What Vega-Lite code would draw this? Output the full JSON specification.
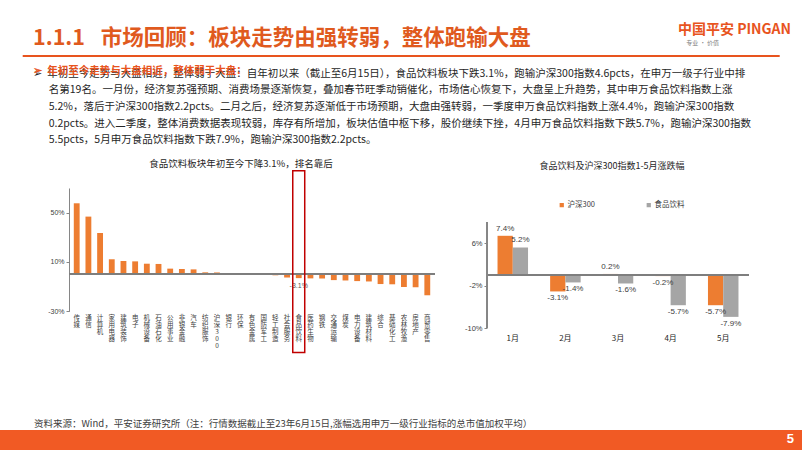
{
  "$schema": "https://vega.github.io/schema/vega-lite/v6.json",
  "background": "white",
  "padding": {"left": 0, "right": 0, "top": 22, "bottom": 0},
  "config": {
    "font": "Liberation Sans, Noto Sans CJK SC",
    "view": {"stroke": null},
    "locale": {"number": {"decimal": ".", "thousands": ",", "grouping": [3], "currency": ["", ""], "minus": "-"}},
    "title": {"font": "Noto Sans CJK SC", "fontWeight": "normal", "subtitleFont": "Noto Sans CJK SC"},
    "axis": {"labelFont": "Liberation Sans, Noto Sans CJK SC", "grid": false, "labelOverlap": false}
  },
  "title": {
    "text": "中国平安 PINGAN",
    "subtitle": "专业 · 价值\u3000\u3000\u3000\u3000\u3000\u3000\u3000\u3000\u3000\u3000\u3000\u3000\u200b",
    "anchor": "end",
    "dx": -11,
    "offset": -17.8,
    "color": "#E8541E",
    "fontSize": 14,
    "fontWeight": "bold",
    "subtitleFontSize": 6,
    "subtitleColor": "#7F7F7F",
    "subtitlePadding": 3
  },
  "spacing": 0,
  "resolve": {"scale": {"color": "independent"}, "legend": {"color": "independent"}},
  "vconcat": [
    {
      "spacing": 21.7,
      "hconcat": [
        {
          "width": 1, "height": 9,
          "data": {"values": [{}]},
          "mark": {"type": "text", "text": ""},
          "encoding": {}
        },
        {
          "width": 757,
          "height": 2,
          "data": {"values": [{}]},
          "mark": {"type": "rect", "color": "#E8541E"},
          "encoding": {
            "x": {"datum": 0, "type": "quantitative", "scale": {"domain": [0, 1]}, "axis": null},
            "x2": {"datum": 1},
            "y": {"datum": 0, "type": "quantitative", "scale": {"domain": [0, 1]}, "axis": null},
            "y2": {"datum": 1}
          },
          "title": {
            "text": "1.1.1\u2002 市场回顾：板块走势由强转弱，整体跑输大盘",
            "anchor": "start",
            "frame": "group",
            "dx": 10.3,
            "offset": 5.5,
            "fontSize": 21.5,
            "fontWeight": "bold",
            "color": "#E05A1E"
          }
        }
      ]
    },
    {
      "spacing": 32,
      "hconcat": [
        {
          "width": 1, "height": 1,
          "data": {"values": [{}]},
          "mark": {"type": "text", "text": ""},
          "encoding": {}
        },
        {
          "width": 760,
          "height": 1,
          "data": {"values": [{}]},
          "mark": {"type": "text", "text": ""},
          "encoding": {},
          "title": {
            "text": [
              "➢\u2002年初至今走势与大盘相近，整体弱于大盘：自年初以来（截止至6月15日），食品饮料板块下跌3.1%，跑输沪深300指数4.6pcts，在申万一级子行业中排",
              "\u200b\u3000\u2002名第19名。一月份，经济复苏强预期、消费场景逐渐恢复，叠加春节旺季动销催化，市场信心恢复下，大盘呈上升趋势，其中申万食品饮料指数上涨",
              "\u200b\u3000\u20025.2%，落后于沪深300指数2.2pcts。二月之后，经济复苏逐渐低于市场预期，大盘由强转弱，一季度申万食品饮料指数上涨4.4%，跑输沪深300指数",
              "\u200b\u3000\u20020.2pcts。进入二季度，整体消费数据表现较弱，库存有所增加，板块估值中枢下移，股价继续下挫，4月申万食品饮料指数下跌5.7%，跑输沪深300指数",
              "\u200b\u3000\u20025.5pcts，5月申万食品饮料指数下跌7.9%，跑输沪深300指数2.2pcts。"
            ],
            "subtitle": "➢\u2002年初至今走势与大盘相近，整体弱于大盘：",
            "anchor": "start",
            "frame": "group",
            "offset": -1,
            "fontSize": 10.5,
            "fontWeight": "normal",
            "color": "#262626",
            "lineHeight": 16.65,
            "subtitleFontSize": 10.5,
            "subtitleFontWeight": "bold",
            "subtitleColor": "#E8541E",
            "subtitleLineHeight": 16.65,
            "subtitlePadding": -79.9
          }
        }
      ]
    },
    {
      "spacing": 20,
      "resolve": {"scale": {"color": "independent"}, "legend": {"color": "independent"}},
      "hconcat": [
        {
          "width": 1, "height": 1,
          "data": {"values": [{}]},
          "mark": {"type": "text", "text": ""},
          "encoding": {}
        },
        {
          "width": 366,
          "height": 123.3,
          "title": {
            "text": "食品饮料板块年初至今下降3.1%，排名靠后",
            "fontSize": 9.5,
            "color": "#262626",
            "dx": -11,
            "offset": 1
          },
          "data": {"values": [
            {"industry": "传媒", "ret": 0.576},
            {"industry": "通信", "ret": 0.468},
            {"industry": "计算机", "ret": 0.335},
            {"industry": "家用电器", "ret": 0.122},
            {"industry": "建筑装饰", "ret": 0.108},
            {"industry": "电子", "ret": 0.105},
            {"industry": "机械设备", "ret": 0.086},
            {"industry": "石油石化", "ret": 0.084},
            {"industry": "公用事业", "ret": 0.046},
            {"industry": "非银金融", "ret": 0.043},
            {"industry": "汽车", "ret": 0.040},
            {"industry": "纺织服饰", "ret": 0.016},
            {"industry": "沪深300", "ret": 0.015},
            {"industry": "银行", "ret": 0.005},
            {"industry": "环保", "ret": 0.001},
            {"industry": "有色金属", "ret": -0.002},
            {"industry": "国防军工", "ret": -0.004},
            {"industry": "轻工制造", "ret": -0.008},
            {"industry": "社会服务", "ret": -0.026},
            {"industry": "食品饮料", "ret": -0.031},
            {"industry": "医药生物", "ret": -0.033},
            {"industry": "钢铁", "ret": -0.034},
            {"industry": "交通运输", "ret": -0.047},
            {"industry": "煤炭", "ret": -0.050},
            {"industry": "电力设备", "ret": -0.055},
            {"industry": "建筑材料", "ret": -0.058},
            {"industry": "综合", "ret": -0.079},
            {"industry": "基础化工", "ret": -0.081},
            {"industry": "农林牧渔", "ret": -0.103},
            {"industry": "房地产", "ret": -0.105},
            {"industry": "商贸零售", "ret": -0.170}
          ]},
          "layer": [
            {
              "mark": {"type": "bar", "color": "#ED7D31"},
              "encoding": {
                "x": {
                  "field": "industry", "type": "nominal", "sort": null,
                  "scale": {"paddingInner": 0.5, "paddingOuter": 0.41},
                  "axis": {"title": null, "domain": false, "ticks": false, "labelAngle": 0,
                    "labelExpr": "split(datum.label, '')", "labelFontSize": 6.5, "labelLineHeight": 7,
                    "labelPadding": 3, "labelColor": "#404040", "labelBaseline": "top", "labelOverlap": false,
                    "labelFont": "Noto Sans CJK SC"}
                },
                "y": {
                  "field": "ret", "type": "quantitative",
                  "scale": {"domain": [-0.3, 0.7], "nice": false, "zero": false},
                  "axis": {"title": null, "format": ".0%", "values": [-0.3, -0.2, -0.1, 0, 0.1, 0.2, 0.3, 0.4, 0.5, 0.6, 0.7],
                    "minExtent": 48, "domainColor": "#868686", "tickColor": "#868686", "tickSize": 3,
                    "labelFontSize": 7, "labelColor": "#404040", "labelOverlap": false}
                }
              }
            },
            {
              "mark": {"type": "rule", "color": "#7F7F7F", "strokeWidth": 1},
              "encoding": {"y": {"datum": 0, "type": "quantitative", "title": null}}
            },
            {
              "transform": [{"filter": "datum.industry === '食品饮料'"}],
              "mark": {"type": "text", "baseline": "top", "dy": 4, "fontSize": 7, "color": "#595959"},
              "encoding": {
                "x": {"field": "industry", "type": "nominal", "sort": null},
                "y": {"field": "ret", "type": "quantitative"},
                "text": {"field": "ret", "type": "quantitative", "format": ".1%"}
              }
            },
            {
              "transform": [{"filter": "datum.industry === '食品饮料'"}],
              "mark": {"type": "bar", "filled": false, "stroke": "#C00000", "strokeWidth": 1.5, "width": {"band": 2.05}, "clip": false},
              "encoding": {
                "x": {"field": "industry", "type": "nominal", "sort": null},
                "y": {"datum": 0.84, "type": "quantitative", "title": null},
                "y2": {"datum": -0.635}
              }
            }
          ]
        },
        {
          "width": 262,
          "height": 140,
          "title": {
            "text": "食品饮料及沪深300指数1-5月涨跌幅",
            "fontSize": 9,
            "color": "#262626",
            "dx": -6,
            "offset": 17
          },
          "data": {"values": [
            {"month": "1月", "series": "沪深300", "v": 0.074},
            {"month": "1月", "series": "食品饮料", "v": 0.052},
            {"month": "2月", "series": "沪深300", "v": -0.031},
            {"month": "2月", "series": "食品饮料", "v": -0.014},
            {"month": "3月", "series": "沪深300", "v": 0.002},
            {"month": "3月", "series": "食品饮料", "v": -0.016},
            {"month": "4月", "series": "沪深300", "v": -0.002},
            {"month": "4月", "series": "食品饮料", "v": -0.057},
            {"month": "5月", "series": "沪深300", "v": -0.057},
            {"month": "5月", "series": "食品饮料", "v": -0.079}
          ]},
          "encoding": {
            "x": {
              "field": "month", "type": "nominal", "sort": null,
              "scale": {"paddingInner": 0.42, "paddingOuter": 0.2},
              "axis": {"title": null, "domain": false, "ticks": false, "labelAngle": 0, "labelFontSize": 8,
                "labelPadding": 6, "labelColor": "#262626", "labelFont": "Noto Sans CJK SC"}
            },
            "xOffset": {"field": "series", "type": "nominal", "sort": ["沪深300", "食品饮料"], "scale": {"paddingInner": 0, "paddingOuter": 0}}
          },
          "layer": [
            {
              "mark": {"type": "bar"},
              "encoding": {
                "y": {
                  "field": "v", "type": "quantitative",
                  "scale": {"domain": [-0.1, 0.1642], "nice": false, "zero": false},
                  "axis": {"title": null, "format": ".0%", "values": [-0.1, -0.08, -0.06, -0.04, -0.02, 0, 0.02, 0.04, 0.06, 0.08, 0.1],
                    "minExtent": 30.7, "domain": false, "tickColor": "#868686", "tickSize": 3,
                    "labelFontSize": 7.5, "labelColor": "#404040", "labelOverlap": false}
                },
                "color": {
                  "field": "series", "type": "nominal",
                  "scale": {"domain": ["沪深300", "食品饮料"], "range": ["#ED7D31", "#A5A5A5"]},
                  "legend": {"title": null, "orient": "none", "legendX": 71, "legendY": 13, "direction": "horizontal",
                    "symbolType": "square", "symbolSize": 18, "labelFontSize": 7.5, "labelColor": "#404040",
                    "columnPadding": 50, "labelOffset": 2, "labelFont": "Noto Sans CJK SC"}
                }
              }
            },
            {
              "mark": {"type": "rule", "color": "#7F7F7F", "strokeWidth": 1},
              "encoding": {"y": {"datum": 0, "type": "quantitative", "title": null}, "x": null, "xOffset": null}
            },
            {
              "mark": {"type": "rule", "color": "#868686", "strokeWidth": 1},
              "encoding": {
                "y": {"datum": 0.1, "type": "quantitative", "title": null},
                "y2": {"datum": -0.1},
                "x": {"value": 0},
                "xOffset": null
              }
            },
            {
              "transform": [{"filter": "datum.v >= 0"}],
              "mark": {"type": "text", "baseline": "bottom", "dy": -3, "fontSize": 8, "color": "#404040"},
              "encoding": {
                "y": {"field": "v", "type": "quantitative"},
                "text": {"field": "v", "type": "quantitative", "format": ".1%"}
              }
            },
            {
              "transform": [{"filter": "datum.v < 0"}],
              "mark": {"type": "text", "baseline": "top", "dy": 3, "fontSize": 8, "color": "#404040"},
              "encoding": {
                "y": {"field": "v", "type": "quantitative"},
                "text": {"field": "v", "type": "quantitative", "format": ".1%"}
              }
            }
          ]
        }
      ]
    },
    {
      "width": 802,
      "height": 76,
      "data": {"values": [{}]},
      "mark": {"type": "text", "text": ""},
      "encoding": {},
      "title": {
        "text": "资料来源：Wind，平安证券研究所（注：行情数据截止至23年6月15日,涨幅选用申万一级行业指标的总市值加权平均）",
        "orient": "bottom",
        "anchor": "start",
        "frame": "group",
        "dx": 34,
        "offset": -11.5,
        "fontSize": 9.5,
        "color": "#404040"
      }
    },
    {
      "width": 802,
      "height": 20,
      "data": {"values": [{}]},
      "mark": {"type": "rect", "color": "#F15A24"},
      "encoding": {
        "x": {"datum": 0, "type": "quantitative", "scale": {"domain": [0, 1]}, "axis": null},
        "x2": {"datum": 1},
        "y": {"datum": 0, "type": "quantitative", "scale": {"domain": [0, 1]}, "axis": null},
        "y2": {"datum": 1}
      },
      "title": {
        "text": "5",
        "anchor": "end",
        "frame": "group",
        "dx": -8,
        "offset": -16,
        "color": "white",
        "fontSize": 13,
        "fontWeight": "bold",
        "font": "Liberation Sans"
      }
    }
  ]
}
